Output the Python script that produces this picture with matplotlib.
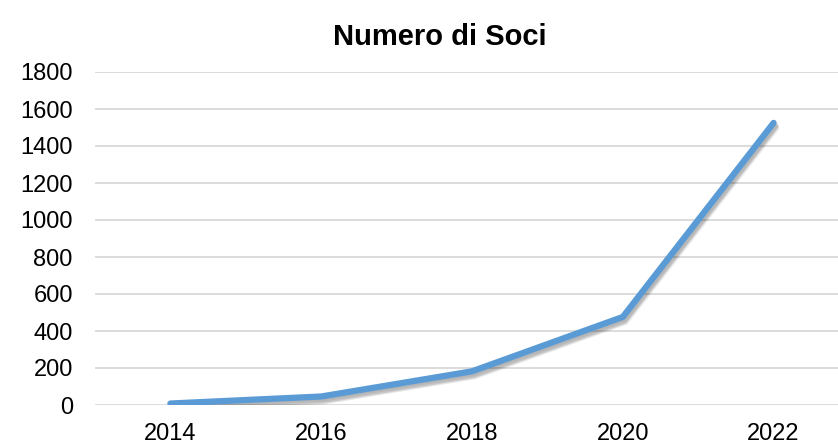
import matplotlib
matplotlib.use('Agg')
import matplotlib.pyplot as plt
import matplotlib.patheffects as pe

years = ['2014', '2016', '2018', '2020', '2022']
soci = [8, 46, 182, 476, 1525]
yticks = [0, 200, 400, 600, 800, 1000, 1200, 1400, 1600, 1800]

plt.rcParams['font.family'] = ['Liberation Sans', 'DejaVu Sans']

fig = plt.figure(figsize=(8.38, 4.45), dpi=100)
# plot area runs past the right edge like in the original
ax = fig.add_axes([95 / 838, 40 / 445, 754 / 838, 333 / 445])

x = list(range(len(years)))
# soft shadow: a few faint offset copies
shadow = [pe.SimpleLineShadow(offset=(dx, dy), shadow_color='black', alpha=0.08)
          for dx, dy in [(1, -1.5), (1.5, -2.5), (2, -3.5), (1, -3)]]
ax.plot(x, soci, color='#5B9BD5', linewidth=4.5, solid_capstyle='round',
        solid_joinstyle='round', path_effects=shadow + [pe.Normal()])

ax.set_xlim(-0.5, 4.5)
ax.set_ylim(0, 1800)
ax.set_xticks(x)
ax.set_xticklabels(years)
ax.set_yticks(yticks)
ax.tick_params(axis='both', length=0, labelsize=17, colors='black')
ax.tick_params(axis='x', pad=13)
ax.tick_params(axis='y', pad=16)
ax.grid(axis='y', color='#D9D9D9', linewidth=1.3)
ax.set_axisbelow(True)
for s in ax.spines.values():
    s.set_visible(False)

fig.text(440 / 838, 1 - 37 / 445, 'Numero di Soci', ha='center', va='center',
         fontsize=21, fontweight='bold')

fig.savefig('out.png', dpi=100)
